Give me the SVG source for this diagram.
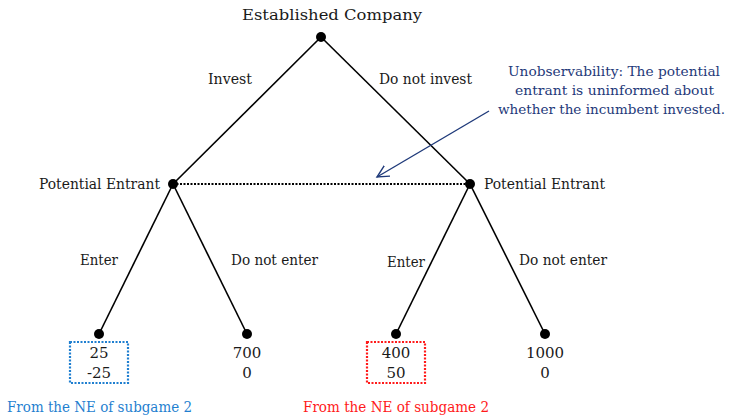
<svg xmlns="http://www.w3.org/2000/svg" width="734" height="415" viewBox="0 0 734 415">
<defs>
<style>
text{font-family:"DejaVu Serif","Liberation Serif",serif;font-size:14.5px;fill:#1a1a1a}
.m{text-anchor:middle}
.num{font-size:15px}
.edge{stroke:#000;stroke-width:1.6;fill:none}
.dot{fill:#000}
.note{fill:#1f3a7a;font-size:13.5px}
</style>
<marker id="ah" markerWidth="14" markerHeight="14" refX="12" refY="6" orient="auto" markerUnits="userSpaceOnUse">
<path d="M0,0 L12,6 L0,12" fill="none" stroke="#1f3a7a" stroke-width="1.4"/>
</marker>
</defs>
<rect width="734" height="415" fill="#fff"/>
<g id="connectors">
<line class="edge" x1="321" y1="37" x2="173" y2="184"/>
<line class="edge" x1="321" y1="37" x2="470" y2="184"/>
<line class="edge" x1="173" y1="184" x2="99" y2="334"/>
<line class="edge" x1="173" y1="184" x2="247" y2="334"/>
<line class="edge" x1="470" y1="184" x2="396" y2="334"/>
<line class="edge" x1="470" y1="184" x2="545" y2="334"/>
<line x1="173" y1="184" x2="470" y2="184" stroke="#000" stroke-width="2.2" stroke-dasharray="2,1.5"/>
<line x1="489" y1="111" x2="377" y2="177" stroke="#1f3a7a" stroke-width="1.4" marker-end="url(#ah)"/>
<text x="208" y="84" textLength="44" lengthAdjust="spacingAndGlyphs">Invest</text>
<text x="379" y="84" textLength="93" lengthAdjust="spacingAndGlyphs">Do not invest</text>
<text x="80" y="265" textLength="38" lengthAdjust="spacingAndGlyphs">Enter</text>
<text x="231" y="265" textLength="87" lengthAdjust="spacingAndGlyphs">Do not enter</text>
<text x="387" y="267" textLength="38" lengthAdjust="spacingAndGlyphs">Enter</text>
<text x="519" y="265" textLength="88" lengthAdjust="spacingAndGlyphs">Do not enter</text>
</g>
<g id="root">
<circle class="dot" cx="321" cy="37" r="5"/>
<text x="242" y="20" textLength="180" lengthAdjust="spacingAndGlyphs">Established Company</text>
</g>
<g id="entrant-left">
<circle class="dot" cx="173" cy="184" r="5"/>
<text x="39" y="189" textLength="121" lengthAdjust="spacingAndGlyphs">Potential Entrant</text>
</g>
<g id="entrant-right">
<circle class="dot" cx="470" cy="184" r="5"/>
<text x="484" y="189" textLength="121" lengthAdjust="spacingAndGlyphs">Potential Entrant</text>
</g>
<g id="note">
<text x="508" y="76" class="note" textLength="212" lengthAdjust="spacingAndGlyphs">Unobservability: The potential</text>
<text x="515" y="95" class="note" textLength="199" lengthAdjust="spacingAndGlyphs">entrant is uninformed about</text>
<text x="498" y="114" class="note" textLength="227" lengthAdjust="spacingAndGlyphs">whether the incumbent invested.</text>
</g>
<g id="leaf1">
<circle class="dot" cx="99" cy="334" r="5"/>
<rect x="70" y="342" width="58" height="41" fill="none" stroke="#1f7fd0" stroke-width="2.2" stroke-dasharray="2,1.5"/>
<text x="99" y="358" class="m num">25</text>
<text x="99" y="378" class="m num">-25</text>
<text x="7" y="412" style="fill:#1f7fd0" textLength="185" lengthAdjust="spacingAndGlyphs">From the NE of subgame 2</text>
</g>
<g id="leaf2">
<circle class="dot" cx="247" cy="334" r="5"/>
<text x="247" y="358" class="m num">700</text>
<text x="247" y="378" class="m num">0</text>
</g>
<g id="leaf3">
<circle class="dot" cx="396" cy="334" r="5"/>
<rect x="367" y="342" width="58" height="41" fill="none" stroke="#ff1a1a" stroke-width="2.2" stroke-dasharray="2,1.5"/>
<text x="396" y="358" class="m num">400</text>
<text x="396" y="378" class="m num">50</text>
<text x="303" y="412" style="fill:#ff1a1a" textLength="186" lengthAdjust="spacingAndGlyphs">From the NE of subgame 2</text>
</g>
<g id="leaf4">
<circle class="dot" cx="545" cy="334" r="5"/>
<text x="545" y="358" class="m num">1000</text>
<text x="545" y="378" class="m num">0</text>
</g>
</svg>
